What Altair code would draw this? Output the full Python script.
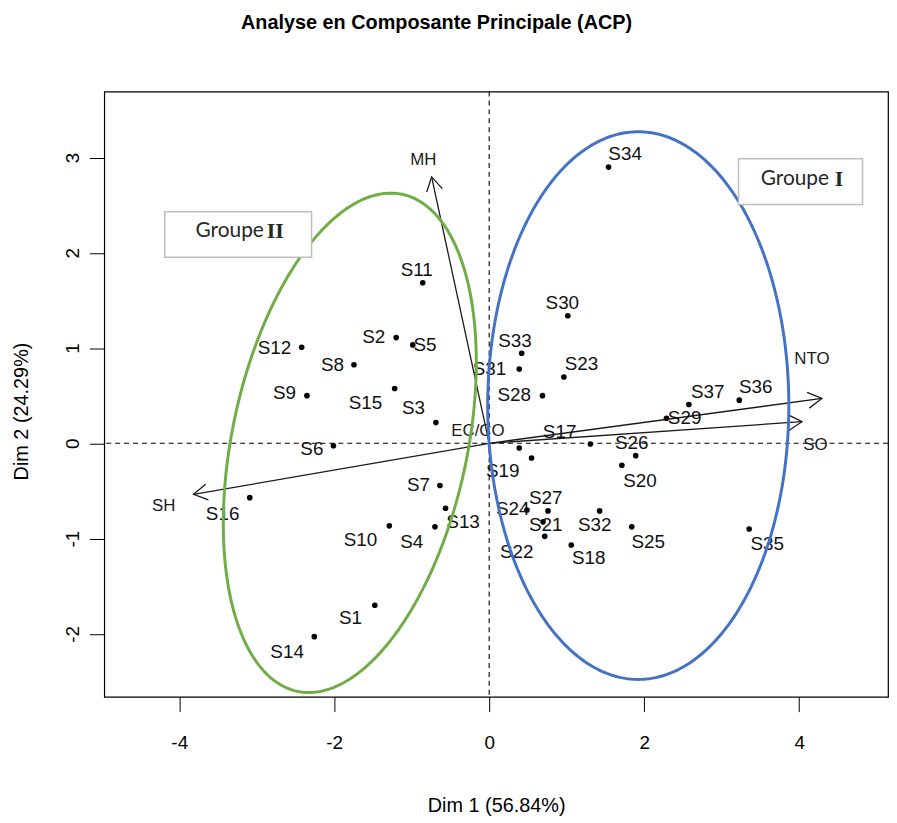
import altair as alt
import pandas as pd
import numpy as np

# ---------------- data ----------------
names = ["S1", "S2", "S3", "S4", "S5", "S6", "S7", "S8", "S9", "S10",
         "S11", "S12", "S13", "S14", "S15", "S16", "S17", "S18", "S19", "S20",
         "S21", "S22", "S23", "S24", "S25", "S26", "S27", "S28", "S29", "S30",
         "S31", "S32", "S33", "S34", "S35", "S36", "S37", ""]
dim1 = [-1.476, -1.200, -0.688, -0.700, -0.986, -2.010, -0.636, -1.745, -2.352, -1.289,
        -0.858, -2.420, -0.563, -2.257, -1.220, -3.090, 1.306, 1.059, 0.388, 1.712,
        0.695, 0.717, 0.964, 0.487, 1.840, 1.891, 0.759, 0.688, 2.288, 1.015,
        0.388, 1.425, 0.419, 1.540, 3.355, 3.227, 2.577, 0.547]
dim2 = [-1.700, 1.110, 0.217, -0.877, 1.033, -0.026, -0.443, 0.825, 0.500, -0.867,
        1.685, 1.008, -0.682, -2.030, 0.575, -0.571, -0.008, -1.068, -0.050, -0.231,
        -0.825, -0.977, 0.696, -0.700, -0.877, -0.130, -0.710, 0.500, 0.263, 1.339,
        0.779, -0.710, 0.946, 2.900, -0.900, 0.453, 0.408, -0.154]
# label anchor positions (data units)
lab_x = [-1.789, -1.489, -0.977, -0.999, -0.828, -2.288, -0.913, -2.023, -2.641, -1.660,
         -0.935, -2.770, -0.337, -2.608, -1.597, -3.440, 0.909, 1.284, 0.175, 1.946,
         0.730, 0.355, 1.191, 0.303, 2.053, 1.840, 0.730, 0.324, 2.522, 0.944,
         0.004, 1.361, 0.333, 1.754, 3.589, 3.440, 2.821, 0.547]
lab_y = [-1.839, 1.120, 0.367, -1.033, 1.033, -0.060, -0.443, 0.818, 0.523, -1.016,
         1.815, 0.998, -0.831, -2.196, 0.425, -0.738, 0.113, -1.206, -0.294, -0.398,
         -0.859, -1.137, 0.835, -0.693, -1.040, 0.002, -0.571, 0.505, 0.263, 1.477,
         0.783, -0.859, 1.078, 3.040, -1.057, 0.592, 0.540, -0.154]

var_names = ["MH", "SH", "NTO", "SO", "EC/CO"]
var_x = [-0.743, -3.816, 4.293, 4.037, 0.0]
var_y = [2.797, -0.536, 0.471, 0.227, 0.0]
var_lab_x = [-0.849, -4.200, 4.165, 4.209, -0.145]
var_lab_y = [2.971, -0.658, 0.888, -0.016, 0.133]

x_ticks = [-4, -2, 0, 2, 4]
y_ticks = [-2, -1, 0, 1, 2, 3]
x_title = "Dim 1 (56.84%)"
y_title = "Dim 2 (24.29%)"
title = "Analyse en Composante Principale (ACP)"

# group ellipses: centre and the two semi-axis vectors (data units)
ell_group = ["Groupe II", "Groupe I"]
ell_cx = [-1.799, 1.924]
ell_cy = [0.005, 0.396]
ell_ax = [0.676, 0.0]
ell_ay = [2.609, 2.875]
ell_bx = [-1.486, 1.943]
ell_by = [0.2547, 0.0]
ell_color = ["#70AD47", "#4472C4"]

# group boxes
box_x1 = [-4.187, 3.218]
box_x2 = [-2.292, 4.818]
box_y1 = [2.432, 2.988]
box_y2 = [1.953, 2.508]
box_word_x = [-3.79, 3.504]
box_num_x = [-2.870, 4.460]
box_text_y = [2.224, 2.779]
box_num = ["II", "I"]

# ---------------- layout ----------------
W, H = 790, 610
xdom = [-4.968, 5.147]
ydom = [-2.661, 3.693]
F = "Liberation Sans"

xs = alt.Scale(domain=xdom, nice=False, zero=False)
ys = alt.Scale(domain=ydom, nice=False, zero=False)
xaxis = alt.Axis(values=x_ticks, title=x_title, grid=False, domain=False,
                 tickSize=15, tickColor="black", tickWidth=1,
                 labelFont=F, labelFontSize=19, labelColor="black",
                 labelPadding=31, labelBaseline="middle", labelFlush=False,
                 labelExpr="'' + datum.value",
                 titleFont=F, titleFontSize=20, titleFontWeight="normal",
                 titleColor="black", titleY=110, titleBaseline="middle")
yaxis = alt.Axis(values=y_ticks, title=y_title, grid=False, domain=False,
                 tickSize=15, tickColor="black", tickWidth=1,
                 labelFont=F, labelFontSize=19, labelColor="black",
                 labelAngle=-90, labelAlign="center", labelBaseline="middle",
                 labelPadding=17, labelFlush=False,
                 labelExpr="'' + datum.value",
                 titleFont=F, titleFontSize=20, titleFontWeight="normal",
                 titleColor="black", titleX=-83, titleY=322,
                 titleAngle=-90, titleBaseline="middle", titleAlign="center")


def X(f):
    return alt.X(f, type="quantitative", scale=xs, axis=xaxis)


def Y(f):
    return alt.Y(f, type="quantitative", scale=ys, axis=yaxis)


ind = pd.DataFrame({"name": names, "x": dim1, "y": dim2, "lx": lab_x, "ly": lab_y})

xunit = W / (xdom[1] - xdom[0])
yunit = H / (ydom[1] - ydom[0])
var = pd.DataFrame({"name": var_names, "x": var_x, "y": var_y,
                    "lx": var_lab_x, "ly": var_lab_y})
var["x0"] = 0.0
var["y0"] = 0.0
var["len"] = np.hypot(var["x"], var["y"])
var["angle"] = (np.degrees(np.arctan2(var["x"] * xunit, var["y"] * yunit))) % 360
arr = var[var["len"] > 0.1]

t = np.linspace(0, 2 * np.pi, 361)
ell_rows = []
for i, g in enumerate(ell_group):
    for k, tt in enumerate(t):
        ell_rows.append({"g": g, "k": k,
                         "x": ell_cx[i] + ell_ax[i] * np.cos(tt) + ell_bx[i] * np.sin(tt),
                         "y": ell_cy[i] + ell_ay[i] * np.cos(tt) + ell_by[i] * np.sin(tt)})
ell = pd.DataFrame(ell_rows)

boxes = pd.DataFrame({"g": ell_group, "x": box_x1, "x2": box_x2, "y": box_y1, "y2": box_y2,
                      "wx": box_word_x, "nx": box_num_x, "ty": box_text_y, "num": box_num})

zero = pd.DataFrame({"x": [0.0], "y": [0.0]})

vline = alt.Chart(zero).mark_rule(color="black", strokeDash=[5, 4], strokeWidth=1.1).encode(x=X("x"))
hline = alt.Chart(zero).mark_rule(color="black", strokeDash=[5, 4], strokeWidth=1.1).encode(y=Y("y"))

arrows = alt.Chart(arr).mark_rule(color="#1a1a1a", strokeWidth=1.3).encode(
    x=X("x0"), y=Y("y0"), x2="x", y2="y")
heads = alt.Chart(arr).mark_point(
    shape="M-0.5,0.866L0,0L0.5,0.866", filled=False, size=1024,
    color="#1a1a1a", strokeWidth=1.3, opacity=1).encode(
    x=X("x"), y=Y("y"), angle=alt.Angle("angle:Q", scale=None))
var_labels = alt.Chart(var).mark_text(font=F, fontSize=17, color="#1a1a1a",
                                      align="center", baseline="middle").encode(
    x=X("lx"), y=Y("ly"), text="name:N")

points = alt.Chart(ind).mark_circle(color="black", size=32, opacity=1).encode(x=X("x"), y=Y("y"))
labels = alt.Chart(ind[ind["name"] != ""]).mark_text(
    font=F, fontSize=19, color="#111111", align="center", baseline="middle").encode(
    x=X("lx"), y=Y("ly"), text="name:N")

ellipses = alt.Chart(ell).mark_line(strokeWidth=3).encode(
    x=X("x"), y=Y("y"), order="k:Q", detail="g:N",
    color=alt.Color("g:N", scale=alt.Scale(domain=ell_group, range=ell_color), legend=None))

box_rect = alt.Chart(boxes).mark_rect(fill="white", stroke="#BFBFBF", strokeWidth=1.5).encode(
    x=X("x"), x2="x2", y=Y("y"), y2="y2")
box_word = alt.Chart(boxes).mark_text(font="Lato", fontSize=21, color="#262626",
                                      align="left", baseline="middle").encode(
    x=X("wx"), y=Y("ty"), text=alt.value("Groupe"))
box_numt = alt.Chart(boxes).mark_text(font="Liberation Serif", fontSize=22, fontWeight="bold",
                                      color="#262626", align="left", baseline="middle").encode(
    x=X("nx"), y=Y("ty"), text="num:N")

chart = alt.layer(
    vline, hline, arrows, heads, points, labels, var_labels, ellipses,
    box_rect, box_word, box_numt
).properties(
    width=W, height=H,
    background="white",
    title=alt.TitleParams(title, font=F, fontSize=20, fontWeight="bold", color="black",
                          anchor="middle", dx=-60, offset=49, baseline="middle"),
    padding={"left": 97, "top": 81, "right": 1, "bottom": 118},
    autosize=alt.AutoSizeParams(type="none"),
).configure_view(stroke="black", strokeWidth=1.2)

chart.save("out.html", embed_options={"renderer": "svg", "actions": False})
